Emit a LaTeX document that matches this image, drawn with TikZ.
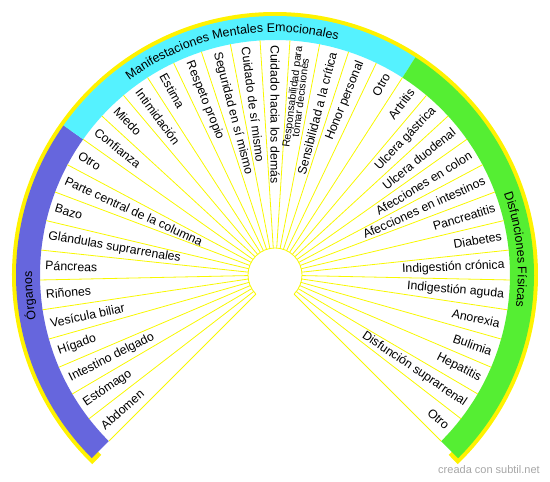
\documentclass[tikz,border=0pt]{standalone}
\usepackage{fontspec}
\setmainfont{Liberation Sans}
\usetikzlibrary{decorations.text}
\definecolor{orgc}{HTML}{6666DD}
\definecolor{mentc}{HTML}{55F2FF}
\definecolor{fisc}{HTML}{55EE33}
\definecolor{rayc}{HTML}{F8F800}
\tikzset{ray/.style={draw=rayc,line width=0.8pt},
 lab/.style={font=\fontsize{12.3}{14}\selectfont,inner sep=1pt,align=center},
 bandtxt/.style={decorate,decoration={text along path,text align=center,text={|\bnd|#1}}}}
\newcommand{\bnd}{\fontsize{12.5}{14}\selectfont}
\newcommand{\respd}{\fontsize{10.5}{10.5}\selectfont\begin{tabular}{@{}c@{}}Responsabilidad para\\[-2.5pt]tomar decisiones\end{tabular}}

\begin{document}
\begin{tikzpicture}[x=1pt,y=1pt]
\useasboundingbox (-275,-207) rectangle (275,275);
\fill[yellow] (226:250pt) arc[start angle=226,end angle=-46,radius=250pt]--(-46:263pt) arc[start angle=-46,end angle=226,radius=263pt]--cycle;
\fill[orgc] (225:235pt) arc[start angle=225,end angle=144.73,radius=235pt]--(144.73:259pt) arc[start angle=144.73,end angle=225,radius=259pt]--cycle;
\fill[mentc] (144.73:235pt) arc[start angle=144.73,end angle=57.16,radius=235pt]--(57.16:259pt) arc[start angle=57.16,end angle=144.73,radius=259pt]--cycle;
\fill[fisc] (57.16:235pt) arc[start angle=57.16,end angle=-45,radius=235pt]--(-45:259pt) arc[start angle=-45,end angle=57.16,radius=259pt]--cycle;
\foreach \i in {0,...,37}\draw[ray] ({225-\i*270/37}:27pt)--({225-\i*270/37}:235pt);
\draw[ray] (225:27pt) arc[start angle=225,end angle=-45,radius=27pt];
\foreach \t [count=\k] in {Abdomen,Estómago,Intestino delgado,Hígado,Vesícula biliar,Riñones,Páncreas,Glándulas suprarrenales,Bazo,Parte central de la columna,Otro,
 Confianza,Miedo,Intimidación,Estima,Respeto propio,Seguridad en sí mismo,Cuidado de sí mismo,Cuidado hacia los demás,\respd,Sensibilidad a la crítica,Honor personal,Otro,
 Artritis,Ulcera gástrica,Ulcera duodenal,Afecciones en colon,Afecciones en intestinos,Pancreatitis,Diabetes,Indigestión crónica,Indigestión aguda,Anorexia,Bulimia,Hepatitis,Disfunción suprarrenal,Otro}{
 \pgfmathsetmacro\a{225-(\k-0.5)*270/37}
 \ifdim\a pt>89pt \node[lab,anchor=west,rotate=\a+180](l\k) at (\a:231pt){\t};
 \else \node[lab,anchor=east,rotate=\a](l\k) at (\a:231pt){\t};\fi}
\path[bandtxt=Órganos] (214.86:243pt) arc[start angle=214.86,end angle=154.86,radius=243pt];
\path[bandtxt=Manifestaciones Mentales Emocionales] (150.95:243pt) arc[start angle=150.95,end angle=50.95,radius=243pt];
\path[bandtxt=Disfunciones Físicas] (36.08:243pt) arc[start angle=36.08,end angle=-23.92,radius=243pt];
\node[font=\fontsize{11}{12}\selectfont,text=black!35,inner sep=0pt](wm) at (214,-195){creada con subtil.net};
\end{tikzpicture}
\end{document}
